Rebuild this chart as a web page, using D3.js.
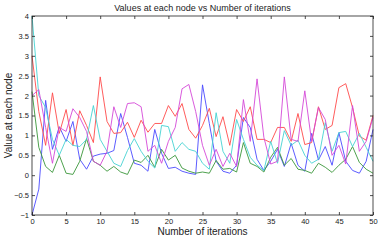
<!DOCTYPE html>
<html>
<head>
<meta charset="utf-8">
<script src="https://cdn.jsdelivr.net/npm/d3@7"></script>
<style>
  body { margin: 0; background: #fff; }
  text { font-family: "Liberation Sans", Arial, sans-serif; fill: #222; }
</style>
</head>
<body>
<script>
// values, one per iteration 0..50
const iterations = d3.range(0, 51);
const xTicks = [0, 5, 10, 15, 20, 25, 30, 35, 40, 45, 50];
const yTicks = [-1, -0.5, 0, 0.5, 1, 1.5, 2, 2.5, 3, 3.5, 4];

const blueVals = [-1, -0.35, 1.88, 0.65, 1.22, 0.85, 1.35, 0.4, 0.15, 0.48, 0.53, 0.55, 0.62, 1.55, 0.95, 0.3, 0.25, 0.1, 1.15, 0.55, 0.17, 0.2, 0.1, 0.05, 0.02, 2.27, 1.3, 0.35, 0.1, 0.05, 0.25, 1.45, 1.2, 0.4, 0.12, 0.35, 0.65, 0.22, 0.8, 0.25, 0.1, 1.05, 0.38, 0.72, 0.25, 1.07, 0.35, 0.12, 0.05, 0.35, 1.15];
const greenVals = [2.1, 0.7, 0.22, 0.07, 0.5, 0.05, 0.02, 0.35, 0.92, 0.35, 0.25, 0.1, 0.22, 0.08, 0.02, 0.38, 0.32, 0.5, 0.2, 0.65, 0.38, 0.5, 0.18, 0.1, 0.05, 0.08, 0.05, 0.37, 0.15, 0.17, 0.08, 0.82, 0.3, 0.22, 0.08, 0.45, 0.7, 0.25, 0.42, 0.15, 0.12, 0.05, 0.3, 0.2, 0.07, 0.25, 0.4, 0.72, 0.32, 0.15, 0.05];
const redVals = [3.0, 1.6, 0.75, 2.07, 1.05, 1.65, 0.75, 1.62, 1.25, 0.82, 2.47, 1.35, 1.05, 1.07, 1.33, 0.95, 1.38, 1.08, 1.3, 1.3, 1.75, 1.48, 1.8, 1.15, 0.93, 1.25, 1.68, 0.97, 1.47, 0.75, 1.65, 1.35, 1.72, 0.9, 0.9, 0.82, 1.2, 1.2, 0.85, 1.55, 0.77, 0.82, 1.72, 1.15, 1.25, 2.2, 2.3, 1.7, 0.98, 0.88, 1.5];
const cyanVals = [4.0, 2.0, 1.7, 0.9, 0.5, 0.9, 0.75, 0.72, 0.9, 1.75, 0.9, 0.6, 0.3, 0.22, 0.62, 0.92, 0.6, 0.35, 0.18, 1.25, 1.22, 0.6, 0.82, 0.65, 0.6, 0.3, 0.15, 1.57, 0.6, 0.3, 1.4, 0.9, 0.45, 0.25, 0.12, 0.85, 0.3, 1.12, 0.75, 0.88, 0.5, 0.3, 0.4, 1.32, 0.6, 1.07, 1.1, 0.72, 1.05, 0.7, 0.35];
const magentaVals = [2.0, 2.15, 1.2, 0.3, 1.2, 1.1, 1.67, 1.45, 1.1, 0.35, 0.25, 0.6, 1.72, 1.2, 1.8, 1.82, 1.72, 0.6, 0.75, 0.3, 0.85, 1.2, 2.17, 2.28, 1.6, 0.75, 0.25, 0.65, 0.22, 0.55, 0.22, 1.9, 0.85, 2.42, 0.95, 0.28, 0.35, 2.47, 0.9, 0.85, 2.12, 0.85, 1.7, 1.4, 0.5, 0.75, 0.28, 1.75, 0.6, 0.85, 1.45];

const series = [
  { values: blueVals, color: "#4a4aff" },
  { values: greenVals, color: "#3a963a" },
  { values: redVals, color: "#ff4a4a" },
  { values: cyanVals, color: "#45d2d2" },
  { values: magentaVals, color: "#d548d8" }
];

const w = 382, h = 240;
const padL = 32, padR = 373, padT = 16, padB = 215;

const svg = d3.select("body").append("svg")
  .attr("width", w)
  .attr("height", h);

const xScale = d3.scaleLinear().domain([0, 50]).range([padL, padR]);
const yScale = d3.scaleLinear().domain([-1, 4]).range([padB, padT]);

// lines
const line = d3.line()
  .x((d, i) => xScale(iterations[i]))
  .y(d => yScale(d));

svg.append("g")
  .selectAll("path")
  .data(series)
  .enter()
  .append("path")
  .attr("d", d => line(d.values))
  .attr("fill", "none")
  .attr("stroke", d => d.color)
  .attr("stroke-width", 0.9);

// box
svg.append("rect")
  .attr("x", padL).attr("y", padT)
  .attr("width", padR - padL).attr("height", padB - padT)
  .attr("fill", "none").attr("stroke", "#222").attr("stroke-width", 0.8);

// axes, ticks pointing inward like matlab
const tick = 3;
const xBottom = svg.append("g")
  .attr("transform", "translate(0," + padB + ")")
  .call(d3.axisBottom(xScale).tickValues(xTicks).tickSize(-tick).tickPadding(4));
const xTop = svg.append("g")
  .attr("transform", "translate(0," + padT + ")")
  .call(d3.axisTop(xScale).tickValues(xTicks).tickSize(-tick).tickFormat(""));
const yLeft = svg.append("g")
  .attr("transform", "translate(" + padL + ",0)")
  .call(d3.axisLeft(yScale).tickValues(yTicks).tickSize(-tick).tickPadding(3).tickFormat(d3.format("")));
const yRight = svg.append("g")
  .attr("transform", "translate(" + padR + ",0)")
  .call(d3.axisRight(yScale).tickValues(yTicks).tickSize(-tick).tickFormat(""));

[xBottom, xTop, yLeft, yRight].forEach(g => {
  g.select(".domain").remove();
  g.selectAll("line").attr("stroke", "#222").attr("stroke-width", 0.8);
  g.selectAll("text").style("font-size", "7.5px").style("font-family", "Liberation Sans, Arial, sans-serif").attr("fill", "#333");
});

// title and labels
svg.append("text")
  .attr("text-anchor", "middle")
  .attr("x", (padL + padR) / 2)
  .attr("y", 11)
  .style("font-size", "9px")
  .text("Values at each node vs Number of iterations");

svg.append("text")
  .attr("text-anchor", "middle")
  .attr("x", (padL + padR) / 2)
  .attr("y", 235)
  .style("font-size", "10px")
  .text("Number of iterations");

svg.append("text")
  .attr("text-anchor", "middle")
  .attr("transform", "translate(12," + ((padT + padB) / 2) + ")rotate(-90)")
  .style("font-size", "10px")
  .text("Value at each node");
</script>
</body>
</html>
